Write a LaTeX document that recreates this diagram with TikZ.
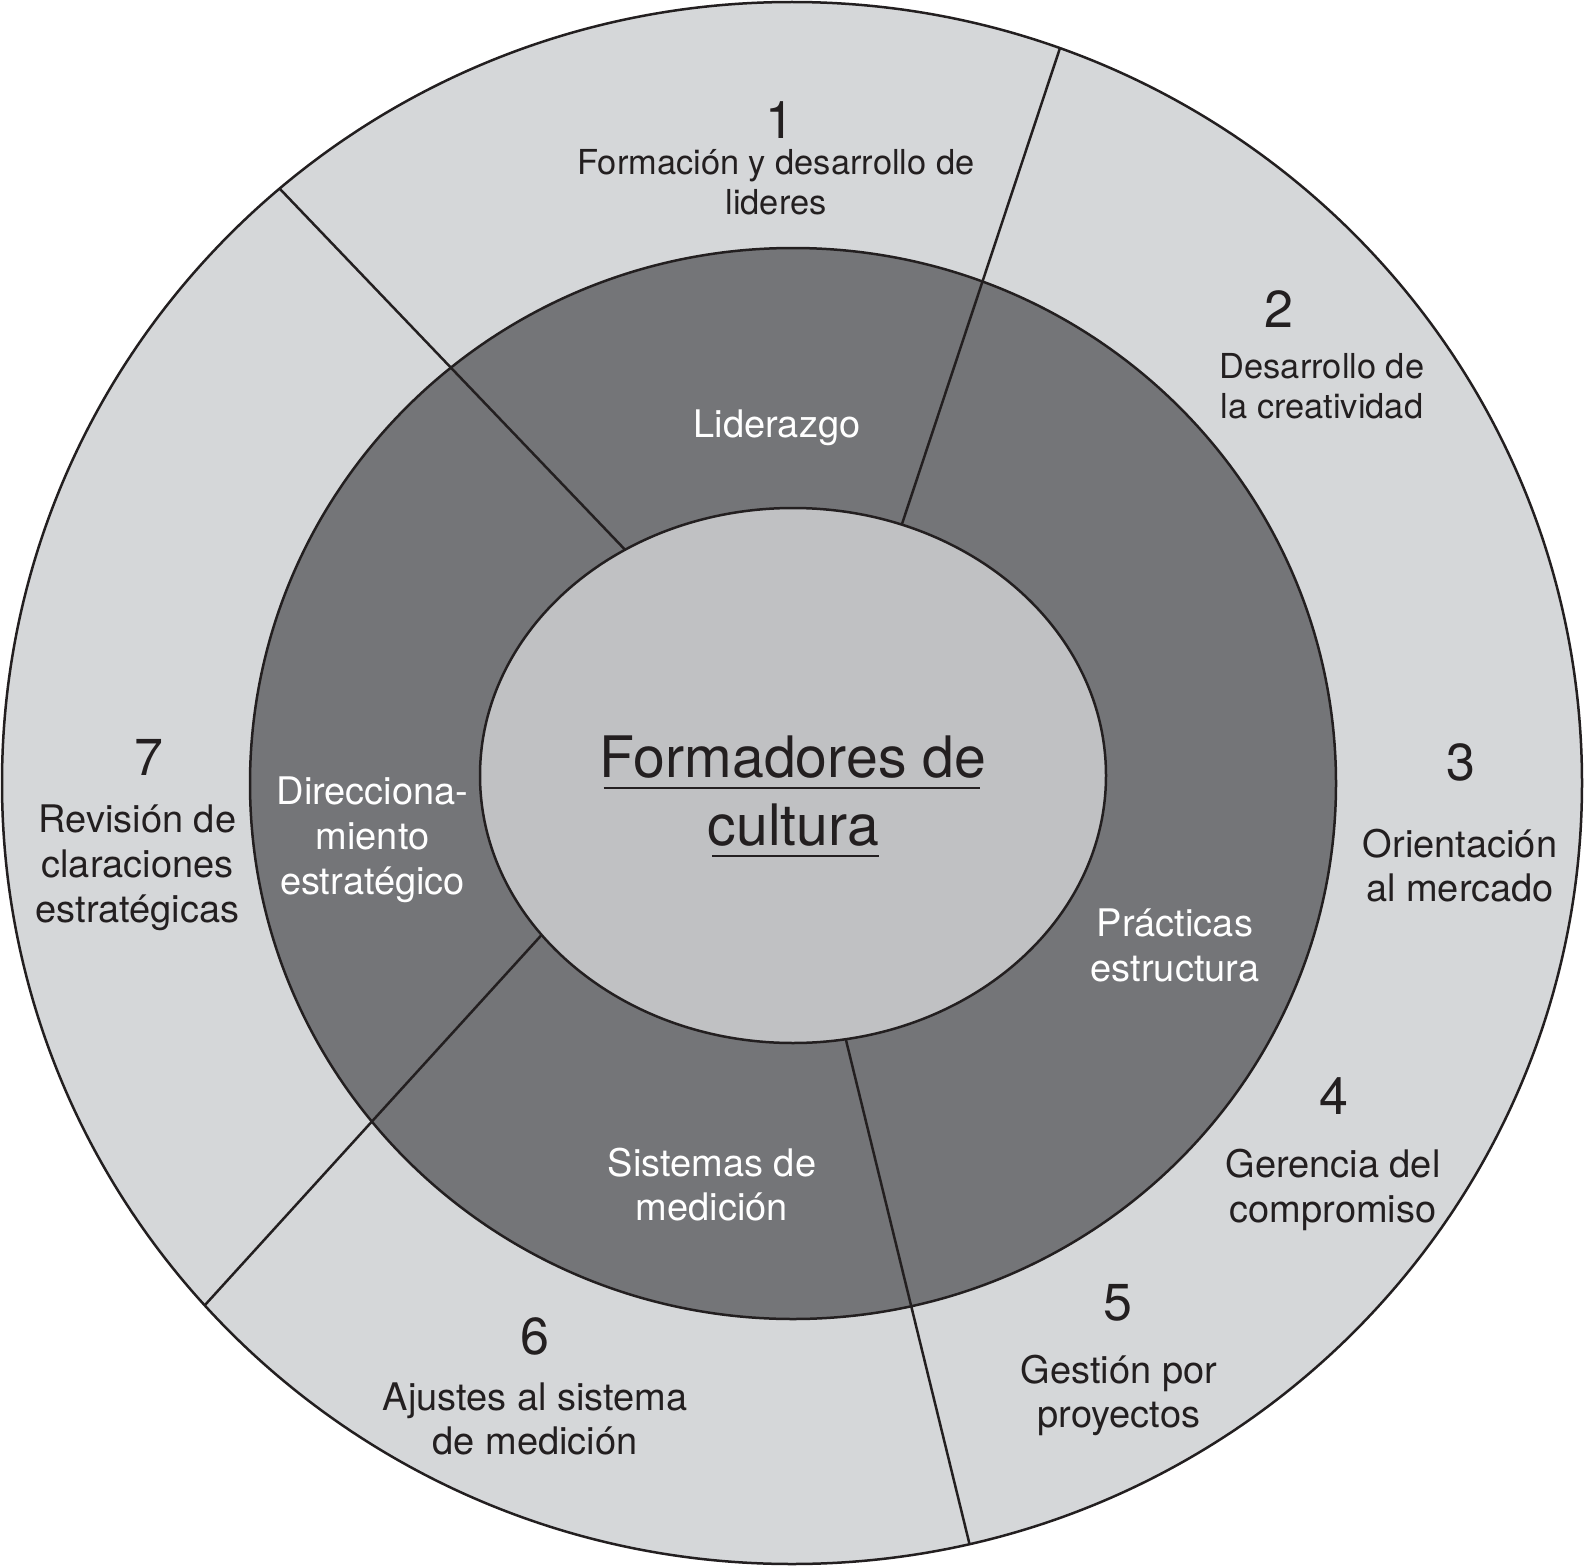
\documentclass[tikz,border=0pt]{standalone}
\usepackage{fontspec}
\setmainfont{TeX Gyre Heros}
\definecolor{ringlight}{HTML}{D5D7D9}
\definecolor{ringdark}{HTML}{747578}
\definecolor{corefill}{HTML}{C0C1C3}
\definecolor{inkdark}{HTML}{231F20}
\newcommand{\mystack}[1]{\vtop{\halign{\hfil##\hfil\cr#1\crcr}}}
\tikzset{
  outline/.style={draw=inkdark, line width=1.25pt},
  divider/.style={draw=inkdark, line width=1.25pt},
  underl/.style={draw=inkdark, line width=1.25pt},
  numlabel/.style={anchor=base, inner sep=0pt, text=inkdark, font=\fontsize{26}{30}\selectfont},
  outerlabel/.style={anchor=base, inner sep=0pt, text=inkdark, font=\fontsize{19}{22.35}\selectfont},
  smalllabel/.style={anchor=base, inner sep=0pt, text=inkdark, font=\fontsize{17.2}{20}\selectfont},
  innerlabel/.style={anchor=base, inner sep=0pt, text=white, font=\fontsize{19}{22.35}\selectfont},
  corelabel/.style={anchor=base, inner sep=0pt, text=inkdark, font=\fontsize{28.6}{34}\selectfont},
}
\begin{document}
\begin{tikzpicture}[x=0.5pt,y=-0.5pt]
\useasboundingbox (0,0) rectangle (1586,1568);
\fill[white] (0,0) rectangle (1586,1568);
% rings
\path[outline, fill=ringlight] (792,783) ellipse [x radius=395pt, y radius=390.5pt];
\path[outline, fill=ringdark] (793,783.5) ellipse [x radius=271.5pt, y radius=267.75pt];
% dividers
\coordinate (a1) at (1060,48);   \coordinate (a2) at (899,533);
\coordinate (b1) at (280,189);   \coordinate (b2) at (632,557);
\coordinate (c1p) at (205,1305); \coordinate (c2p) at (547,929);
\coordinate (d1) at (969.5,1544);\coordinate (d2) at (845,1036);
\draw[divider] (a1) -- (a2);
\draw[divider] (b1) -- (b2);
\draw[divider] (c1p) -- (c2p);
\draw[divider] (d1) -- (d2);
% core
\path[outline, fill=corefill] (793,775.5) ellipse [x radius=156.5pt, y radius=133.75pt];
% outer labels
\node[numlabel] (n1) at (780,139) {1};
\node[smalllabel] (t1) at (776,174.5) {\mystack{Formación y desarrollo de\cr lideres}};
\node[numlabel] (n2) at (1279,327) {2};
\node[smalllabel] (t2) at (1322,378.6) {\mystack{Desarrollo de\cr la creatividad}};
\node[numlabel] (n3) at (1461,780) {3};
\node[outerlabel] (t3) at (1460,857) {\mystack{Orientación\cr al mercado}};
\node[numlabel] (n4) at (1333.5,1114) {4};
\node[outerlabel] (t4) at (1333,1177.7) {\mystack{Gerencia del\cr compromiso}};
\node[numlabel] (n5) at (1118,1320) {5};
\node[outerlabel] (t5) at (1119,1383) {\mystack{Gestión por\cr proyectos}};
\node[numlabel] (n6) at (534.7,1354) {6};
\node[outerlabel] (t6) at (535,1410) {\mystack{Ajustes al sistema\cr de medición}};
\node[numlabel] (n7) at (149,775) {7};
\node[outerlabel] (t7) at (137.5,832.8) {\mystack{Revisión de\cr claraciones\cr estratégicas}};
% inner ring labels
\node[innerlabel] (lid) at (777,437) {Liderazgo};
\node[innerlabel] (dir) at (372.5,804.7) {\mystack{Direcciona-\cr miento\cr estratégico}};
\node[innerlabel] (pra) at (1175,936.4) {\mystack{Prácticas\cr estructura}};
\node[innerlabel] (sis) at (712,1176) {\mystack{Sistemas de\cr medición}};
% core labels
\node[corelabel] (c1) at (793,777) {Formadores de};
\node[corelabel] (c2) at (793.5,845) {cultura};
\draw[underl] ([xshift=2pt,yshift=-5.5pt]c1.base west) -- ([xshift=-3pt,yshift=-5.5pt]c1.base east);
\draw[underl] ([xshift=2.5pt,yshift=-5.5pt]c2.base west) -- ([xshift=-0.5pt,yshift=-5.5pt]c2.base east);
\end{tikzpicture}
\end{document}
